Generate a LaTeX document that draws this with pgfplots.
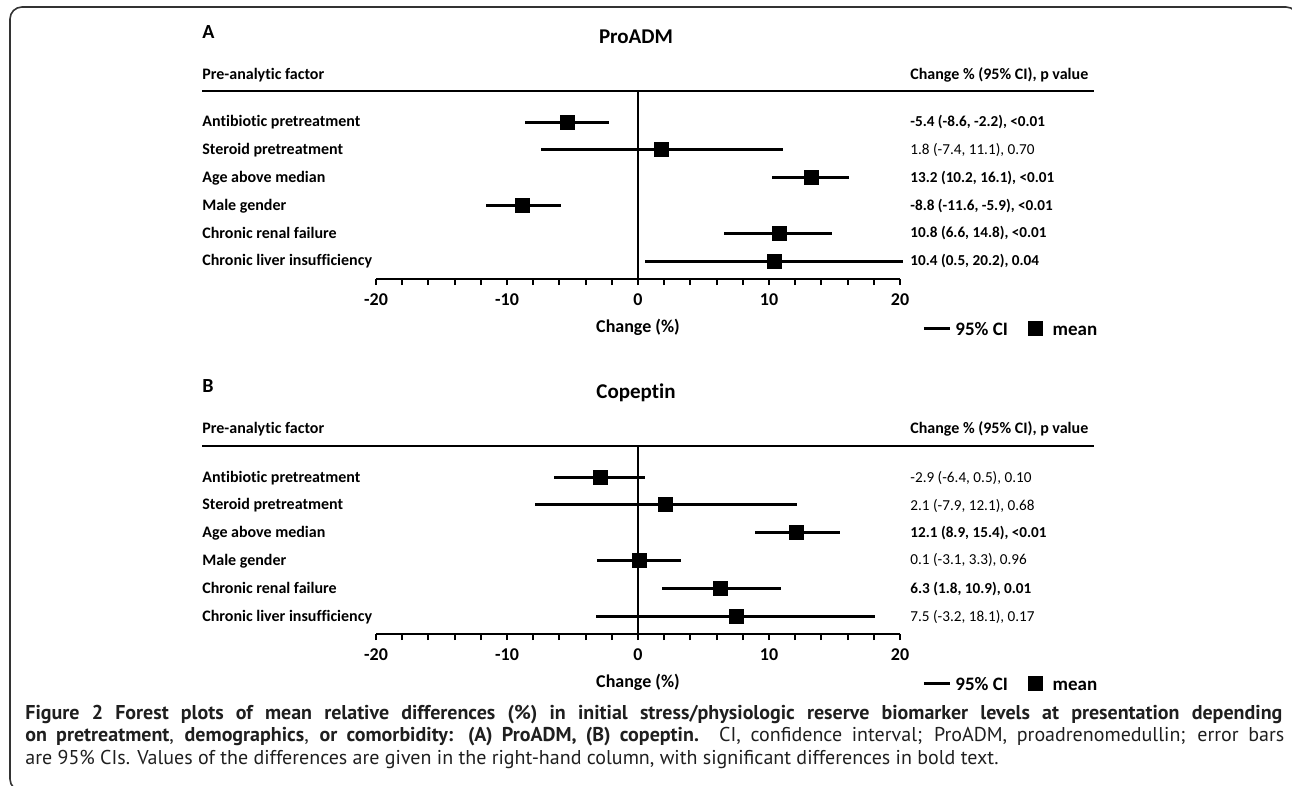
\documentclass[border=0pt]{standalone}
\usepackage{fontspec}
\setmainfont{Carlito}[Ligatures=NoCommon]
\newfontfamily\capfont{PT Sans}
\usepackage{pgfplots}
\usepackage{pgfplotstable}
\pgfplotsset{compat=1.18}

% row, mean change, lower and upper 95% CI
\pgfplotstableread{
row mean lo hi
1 -5.4 -8.6 -2.2
2 1.8 -7.4 11.1
3 13.2 10.2 16.1
4 -8.8 -11.6 -5.9
5 10.8 6.6 14.8
6 10.4 0.5 20.2
}\proadm

\pgfplotstableread{
row mean lo hi
1 -2.9 -6.4 0.5
2 2.1 -7.9 12.1
3 12.1 8.9 15.4
4 0.1 -3.1 3.3
5 6.3 1.8 10.9
6 7.5 -3.2 18.1
}\copeptin

\pgfplotsset{
  forest/.style={
    scale only axis, width=262pt, height=94pt,
    xmin=-20, xmax=20, ymin=-0.115, ymax=6.647, y dir=reverse,
    axis x line=bottom, axis y line=none,
    axis line style={-, line width=1.3pt},
    ytick=\empty,
    xtick={-20,-10,0,10,20}, minor x tick num=4,
    tick align=outside, major tick length=3pt, minor tick length=3pt,
    tick style={line width=1pt, black},
    /pgf/number format/assume math mode=true,
    xticklabel style={font=\bfseries\fontsize{9}{10}\selectfont, yshift=-1pt},
    xlabel={Change (\%)},
    xlabel style={font=\bfseries\fontsize{9}{10}\selectfont, at={(axis description cs:0.5,-0.255)}, anchor=center},
    clip=false,
    legend columns=2,
    legend style={draw=none, fill=none, inner sep=0pt, anchor=west,
      at={(axis description cs:1.042,-0.265)},
      font=\bfseries\fontsize{9.5}{10}\selectfont,
      nodes={text height=1.55ex, text depth=0.25ex},
      /tikz/every even column/.append style={column sep=8pt}},
  },
  ci/.style={black, only marks, mark=square*, mark size=3.5pt,
    /pgfplots/error bars/x dir=both, /pgfplots/error bars/x explicit,
    /pgfplots/error bars/error mark=none,
    /pgfplots/error bars/error bar style={line width=1.5pt}},
  ciline/.style={legend image code/.code={\draw[black, line width=1.5pt] (0pt,0pt) -- (13pt,0pt);}},
  meanmark/.style={black, mark=square*, mark size=3.5pt,
    legend image code/.code={\draw[##1] plot coordinates {(3.5pt,0pt)}; \path (0pt,0pt) (10pt,0pt);}},
}

\begin{document}
\begin{tikzpicture}[x=0.5pt, y=0.5pt]
% coordinates are image pixels, y counted downward as negative
\useasboundingbox (0,0) rectangle (1292,-786);
\draw[line width=0.8pt, black!80, rounded corners=6pt] (40,-791) -- (10,-791) -- (10,-7) -- (1298,-7) -- (1298,-40);

% ---- panel A
\begin{axis}[forest, at={(188pt,-139.5pt)}, anchor=south west]
\draw[line width=1.3pt] (axis cs:0,-0.115) -- (axis cs:0,6.647);
\addplot[forget plot, ci] table[x=mean, y=row, x error plus expr=\thisrow{hi}-\thisrow{mean}, x error minus expr=\thisrow{mean}-\thisrow{lo}] {\proadm};
\addlegendimage{ciline}
\addlegendentry{95\% CI}
\addlegendimage{meanmark}
\addlegendentry{mean}
\end{axis}

% ---- panel B
\begin{axis}[forest, at={(188pt,-317pt)}, anchor=south west]
\draw[line width=1.3pt] (axis cs:0,-0.115) -- (axis cs:0,6.647);
\addplot[forget plot, ci] table[x=mean, y=row, x error plus expr=\thisrow{hi}-\thisrow{mean}, x error minus expr=\thisrow{mean}-\thisrow{lo}] {\copeptin};
\addlegendimage{ciline}
\addlegendentry{95\% CI}
\addlegendimage{meanmark}
\addlegendentry{mean}
\end{axis}

\tikzset{lab/.style={anchor=base west, inner sep=0pt, font=\bfseries\fontsize{8}{9}\selectfont},
         val/.style={anchor=base west, inner sep=0pt, font=\fontsize{7.6}{9}\selectfont}}

% panel A texts
\node[lab, font=\bfseries\fontsize{10}{11}\selectfont] at (202,-39) {A};
\node[anchor=base, inner sep=0pt, font=\bfseries\fontsize{10.5}{12}\selectfont] at (636,-44) {ProADM};
\node[lab] at (202,-80) {Pre-analytic factor};
\node[lab] at (910,-80) {Change \% (95\% CI), p value};
\draw[line width=1.3pt] (202,-91) -- (1094,-91);
\foreach \t [count=\i] in {Antibiotic pretreatment, Steroid pretreatment, Age above median, Male gender, Chronic renal failure, Chronic liver insufficiency}
  {\node[lab] at (202,{-(122+27.8*(\i-1)+5)}) {\t};}
\node[val] at (910,-127) {\bfseries -5.4 (-8.6, -2.2), <0.01};
\node[val] at (910,-155) {1.8 (-7.4, 11.1), 0.70};
\node[val] at (910,-183) {\bfseries 13.2 (10.2, 16.1), <0.01};
\node[val] at (910,-211) {\bfseries -8.8 (-11.6, -5.9), <0.01};
\node[val] at (910,-238) {\bfseries 10.8 (6.6, 14.8), <0.01};
\node[val] at (910,-266) {\bfseries 10.4 (0.5, 20.2), 0.04};

% panel B texts
\node[lab, font=\bfseries\fontsize{10}{11}\selectfont] at (202,-393) {B};
\node[anchor=base, inner sep=0pt, font=\bfseries\fontsize{10.5}{12}\selectfont] at (636,-399) {Copeptin};
\node[lab] at (202,-434) {Pre-analytic factor};
\node[lab] at (910,-434) {Change \% (95\% CI), p value};
\draw[line width=1.3pt] (202,-446) -- (1094,-446);
\foreach \t [count=\i] in {Antibiotic pretreatment, Steroid pretreatment, Age above median, Male gender, Chronic renal failure, Chronic liver insufficiency}
  {\node[lab] at (202,{-(477+27.8*(\i-1)+5)}) {\t};}
\node[val] at (910,-482) {-2.9 (-6.4, 0.5), 0.10};
\node[val] at (910,-510) {2.1 (-7.9, 12.1), 0.68};
\node[val] at (910,-538) {\bfseries 12.1 (8.9, 15.4), <0.01};
\node[val] at (910,-565) {0.1 (-3.1, 3.3), 0.96};
\node[val] at (910,-593) {\bfseries 6.3 (1.8, 10.9), 0.01};
\node[val] at (910,-621) {7.5 (-3.2, 18.1), 0.17};

% caption
\tikzset{capt/.style={anchor=base west, inner sep=0pt, font=\capfont\fontsize{10}{11}\selectfont, text=black!88}}
\node[capt] at (25,-719) {\makebox[628.5pt][s]{\bfseries Figure 2 Forest plots of mean relative differences (\%) in initial stress/physiologic reserve biomarker levels at presentation depending}};
\node[capt] at (25,-741) {\makebox[629.5pt][s]{\textbf{on pretreatment}, \textbf{demographics}, \textbf{or comorbidity: (A) ProADM, (B) copeptin.} CI, confidence interval; ProADM, proadrenomedullin; error bars}};
\node[capt] at (25,-764) {are 95\% CIs. Values of the differences are given in the right-hand column, with significant differences in bold text.};
\end{tikzpicture}
\end{document}
